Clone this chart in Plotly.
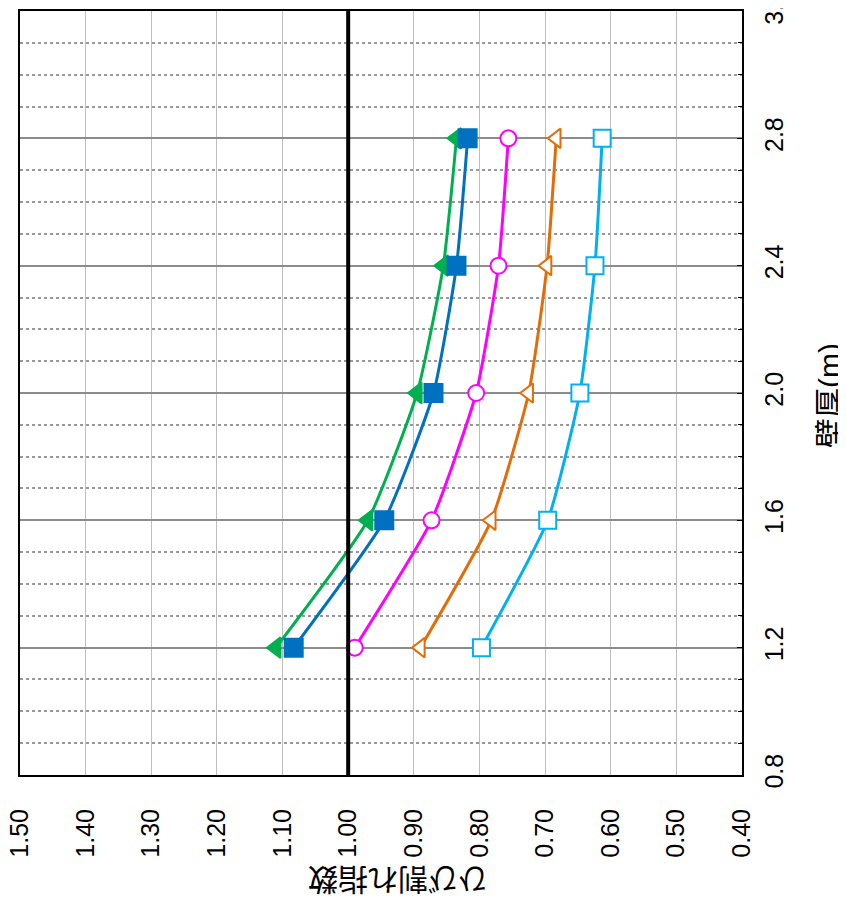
import plotly.graph_objects as go

# 壁厚 (m) -> vertical axis after rotation
wall_thickness = [1.2, 1.6, 2.0, 2.4, 2.8]

# ひび割れ指数 for each case
case_green = [1.11, 0.97, 0.895, 0.855, 0.835]
case_blue = [1.083, 0.945, 0.87, 0.835, 0.818]
case_magenta = [0.99, 0.873, 0.805, 0.771, 0.756]
case_orange = [0.89, 0.782, 0.725, 0.697, 0.683]
case_cyan = [0.797, 0.696, 0.647, 0.624, 0.613]

index_ticks = [1.5, 1.4, 1.3, 1.2, 1.1, 1.0, 0.9, 0.8, 0.7, 0.6, 0.5, 0.4]
index_labels = [f"{v:.2f}" for v in index_ticks]
thickness_ticks = [0.8, 1.2, 1.6, 2.0, 2.4, 2.8, 3.2]
thickness_labels = [f"{v:.1f}" for v in thickness_ticks]

THRESHOLD = 1.0
FONT = "Liberation Sans, Arial, Noto Sans CJK JP"

series = [
    ("ケース1", case_green, "#00B050", "triangle-left", "#00B050", 18),
    ("ケース2", case_blue, "#0070C0", "square", "#0070C0", 18),
    ("ケース3", case_magenta, "#FF00FF", "circle", "white", 16),
    ("ケース4", case_orange, "#E36C09", "triangle-left", "white", 17),
    ("ケース5", case_cyan, "#00B0F0", "square", "white", 17),
]

fig = go.Figure()

for name, vals, color, symbol, fill, size in series:
    fig.add_trace(go.Scatter(
        x=vals, y=wall_thickness, name=name, mode="lines+markers",
        line=dict(color=color, width=3, shape="spline", smoothing=0.5),
        marker=dict(symbol=symbol, size=size, color=fill,
                    line=dict(color=color, width=2)),
        showlegend=False, cliponaxis=False,
    ))

fig.add_vline(x=THRESHOLD, line_color="black", line_width=4)

fig.update_xaxes(
    range=[1.5, 0.4], tickvals=index_ticks, ticktext=index_labels,
    tickangle=-90, ticklabelstandoff=22, automargin=False,
    ticklabeloverflow="allow",
    tickfont=dict(size=25, color="black", family=FONT),
    showgrid=True, gridcolor="#BEBEBE", gridwidth=1,
    showline=True, linecolor="black", linewidth=2, mirror=True,
    zeroline=False,
)
fig.update_yaxes(
    range=[0.7999, 3.2001], side="right", tickvals=thickness_ticks, ticktext=thickness_labels,
    tickangle=-90, ticks="inside", ticklen=5, tickcolor="black", ticklabelstandoff=9,
    automargin=False, ticklabeloverflow="allow",
    tickfont=dict(size=25, color="black", family=FONT),
    showgrid=True, gridcolor="#8C8C8C", gridwidth=2,
    minor=dict(dtick=0.1, showgrid=True, gridcolor="#999999", griddash="dot",
               gridwidth=1.5, ticks="inside", ticklen=4, tickcolor="black"),
    showline=True, linecolor="black", linewidth=2, mirror=True,
    zeroline=False,
)

fig.add_annotation(text="壁厚(m)", xref="paper", yref="paper", x=1.1205, y=0.496,
                   xanchor="center", yanchor="middle",
                   showarrow=False, textangle=-90,
                   font=dict(size=30, color="black", family=FONT))
fig.add_annotation(text="ひび割れ指数", xref="paper", yref="paper", x=0.5235, y=-0.137,
                   xanchor="center", yanchor="middle",
                   showarrow=False, textangle=180,
                   font=dict(size=30, color="black", family=FONT))

# the page body adds an 8px offset, so margins are trimmed to keep the plot box in place
fig.update_layout(
    width=846, height=899,
    margin=dict(l=12, r=112, t=3, b=132),
    paper_bgcolor="white", plot_bgcolor="white",
)

fig.write_html("out.html")
